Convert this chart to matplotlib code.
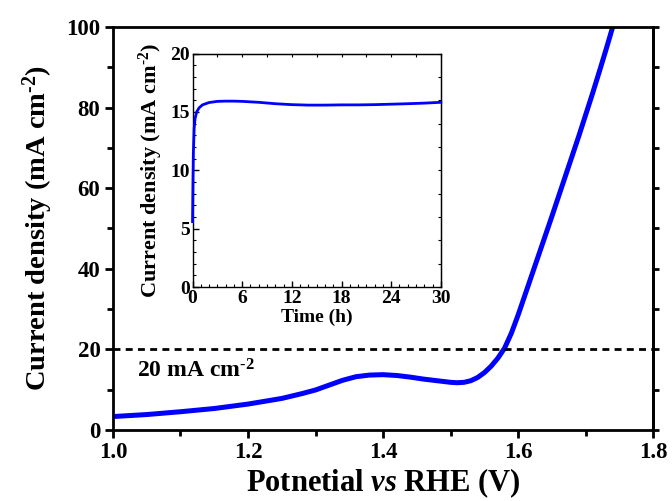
import matplotlib
matplotlib.use("Agg")
import matplotlib.pyplot as plt
from matplotlib.ticker import MultipleLocator, NullFormatter

# LSV polarization curve
potential = [1.00, 1.05, 1.10, 1.15, 1.20, 1.25, 1.28, 1.30, 1.32, 1.34, 1.36,
             1.38, 1.40, 1.42, 1.44, 1.46, 1.48, 1.50, 1.51, 1.52, 1.53, 1.54,
             1.55, 1.56, 1.57, 1.58, 1.59, 1.60, 1.61, 1.62, 1.63, 1.64, 1.65,
             1.66, 1.67, 1.68, 1.69, 1.70, 1.71, 1.72, 1.73, 1.74]
current = [3.3, 3.8, 4.5, 5.3, 6.4, 7.8, 9.0, 9.9, 11.1, 12.3, 13.2,
           13.6, 13.7, 13.5, 13.1, 12.6, 12.2, 11.8, 11.7, 11.8, 12.2, 13.0,
           14.2, 15.8, 17.8, 20.3, 24.0, 28.5, 33.4, 38.3, 43.2, 48.1, 53.0,
           58.0, 63.0, 68.0, 73.0, 78.2, 83.4, 88.8, 94.3, 100.0]

# chronoamperometry (inset)
time_h = [0, 0.05, 0.1, 0.2, 0.3, 0.5, 0.8, 1.2, 2, 3, 4, 5, 6, 8, 10, 12,
          14, 16, 18, 20, 22, 24, 26, 28, 30]
stab_j = [5.6, 9.0, 11.5, 13.6, 14.4, 15.0, 15.35, 15.6, 15.8, 15.9, 15.92,
          15.92, 15.9, 15.82, 15.7, 15.62, 15.58, 15.58, 15.6, 15.6, 15.62,
          15.66, 15.7, 15.75, 15.82]

plt.rcParams.update({"font.family": "Liberation Serif", "font.weight": "bold",
                     "mathtext.fontset": "custom",
                     "mathtext.rm": "Liberation Serif:bold",
                     "mathtext.it": "Liberation Serif:italic:bold",
                     "mathtext.bf": "Liberation Serif:bold",
                     "mathtext.default": "rm"})

UNIT = "mA cm$^{\u2010 2}$"

fig = plt.figure(figsize=(6.72, 5.01), dpi=100)
ax = fig.add_axes([0.168, 0.142, 0.804, 0.804])

ax.plot(potential, current, color="#0000ff", lw=3.6, solid_capstyle="round",
        solid_joinstyle="round")
ax.axhline(20, color="black", lw=2, ls=(0, (2.5, 1.9)))
ax.text(1.036, 13, "20 " + UNIT, fontsize=17, fontweight="bold",
        bbox=dict(facecolor="white", edgecolor="none", pad=3))

ax.set_xlim(1.0, 1.8)
ax.set_ylim(0, 100)
ax.xaxis.set_major_locator(MultipleLocator(0.2))
ax.xaxis.set_minor_locator(MultipleLocator(0.1))
ax.yaxis.set_major_locator(MultipleLocator(20))
ax.yaxis.set_minor_locator(MultipleLocator(10))
ax.set_xticklabels([f"{v:.1f}" for v in ax.get_xticks()])
for s in ax.spines.values():
    s.set_linewidth(2)
ax.tick_params(which="major", direction="out", length=6, width=2, labelsize=16.5, pad=3)
ax.tick_params(which="minor", direction="out", length=4, width=2)
ax.set_xlabel("Potnetial $\\mathit{vs}$ RHE (V)", fontsize=22, fontweight="bold",
              labelpad=2)
ax.set_ylabel("Current density (" + UNIT + ")", fontsize=20.5, fontweight="bold",
              labelpad=8)

right = ax.secondary_yaxis("right")
right.yaxis.set_major_locator(MultipleLocator(10))
right.yaxis.set_major_formatter(NullFormatter())
right.tick_params(direction="out", length=4, width=2)
right.spines["right"].set_linewidth(2)

# inset: stability test
ins = fig.add_axes([0.2865, 0.4271, 0.3695, 0.4661])
ins.plot(time_h, stab_j, color="#0000ff", lw=2, zorder=3, clip_on=False)
ins.set_xlim(0, 30)
ins.set_ylim(0, 20)
ins.xaxis.set_major_locator(MultipleLocator(6))
ins.xaxis.set_minor_locator(MultipleLocator(1))
ins.yaxis.set_major_locator(MultipleLocator(5))
ins.yaxis.set_minor_locator(MultipleLocator(1))
for s in ins.spines.values():
    s.set_linewidth(1)
ins.tick_params(which="major", direction="in", length=4, width=1, labelsize=14, pad=2)
ins.tick_params(which="minor", direction="in", length=2.5, width=0.8)
ins.set_xlabel("Time (h)", fontsize=14, fontweight="bold", labelpad=1)
ins.set_ylabel("Current density (" + UNIT + ")", fontsize=16, fontweight="bold",
               labelpad=4)

top = ins.secondary_xaxis("top")
top.xaxis.set_major_locator(MultipleLocator(3))
top.xaxis.set_major_formatter(NullFormatter())
top.tick_params(direction="in", length=2.5, width=0.8)
rgt = ins.secondary_yaxis("right")
rgt.yaxis.set_major_locator(MultipleLocator(2))
rgt.yaxis.set_major_formatter(NullFormatter())
rgt.tick_params(direction="in", length=2.5, width=0.8)

fig.savefig("out.png", dpi=100, facecolor="white")
